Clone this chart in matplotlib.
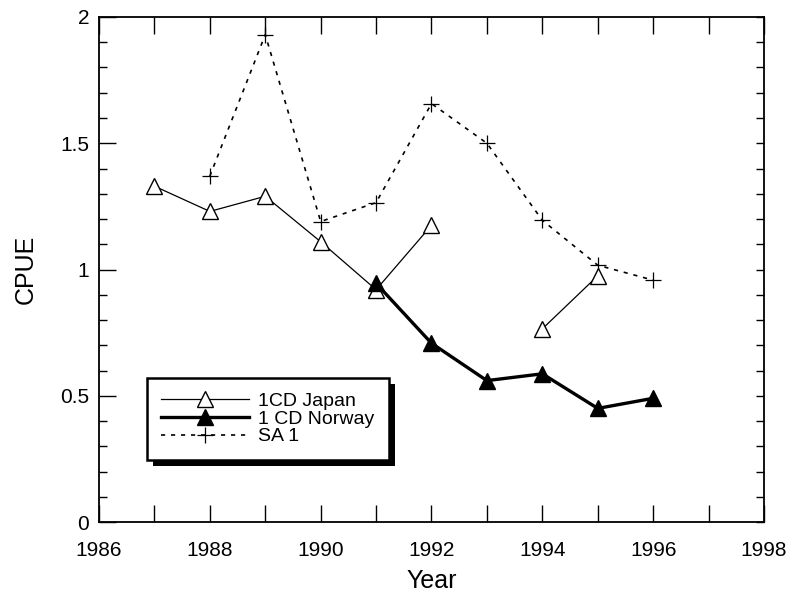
import numpy as np
import matplotlib
matplotlib.use("Agg")
import matplotlib.pyplot as plt
from matplotlib.patches import Rectangle
from matplotlib.transforms import IdentityTransform
from matplotlib.ticker import MultipleLocator

plt.rcParams['font.family'] = ['Liberation Sans', 'DejaVu Sans']

# data
years = np.arange(1987, 1997)
japan = [1.33, 1.23, 1.29, 1.11, 0.92, 1.175, np.nan, 0.765, 0.975, np.nan]
norway_years = [1991, 1992, 1993, 1994, 1995, 1996]
norway = [0.945, 0.708, 0.56, 0.587, 0.45, 0.49]
sa_years = [1988, 1989, 1990, 1991, 1992, 1993, 1994, 1995, 1996]
sa1 = [1.37, 1.93, 1.19, 1.265, 1.657, 1.50, 1.195, 1.017, 0.958]

fig = plt.figure(figsize=(7.94, 5.92), dpi=100)
ax = fig.add_axes([0.1247, 0.1182, 0.8375, 0.8531])

ax.plot(years, japan, '-', color='k', lw=0.9, marker='^', ms=11.5,
        mfc='white', mec='k', mew=1.0, label='1CD Japan', zorder=3)
ax.plot(norway_years, norway, '-', color='k', lw=2.4, marker='^', ms=11.5,
        mfc='k', mec='k', label='1 CD Norway', zorder=4)
ax.plot(sa_years, sa1, color='k', lw=1.2, ls=(0, (2.5, 3.5)), marker='+',
        ms=11, mew=0.9, label='SA 1', zorder=2)

ax.set_xlim(1986, 1998)
ax.set_ylim(0, 2)
ax.xaxis.set_major_locator(MultipleLocator(2))
ax.xaxis.set_minor_locator(MultipleLocator(1))
ax.yaxis.set_major_locator(MultipleLocator(0.5))
ax.yaxis.set_minor_locator(MultipleLocator(0.1))
ax.yaxis.set_major_formatter(plt.FuncFormatter(lambda v, p: f'{v:g}'))

ax.tick_params(axis='x', which='both', direction='in', top=True, bottom=True,
               length=12, width=1.0, labelsize=15, pad=14)
ax.tick_params(axis='y', which='major', direction='in', left=True, right=True,
               length=12, width=1.0, labelsize=15, pad=7)
ax.tick_params(axis='y', which='minor', direction='in', left=True, right=True,
               length=6, width=1.0)
# right side: short ticks at every 0.1 including the majors
for t in ax.yaxis.get_major_ticks():
    t.tick2line.set_markersize(6)

for s in ax.spines.values():
    s.set_linewidth(1.3)

ax.set_xlabel('Year', fontsize=18, labelpad=6)
ax.set_ylabel('CPUE', fontsize=18, labelpad=16)

leg = ax.legend(loc='lower left', bbox_to_anchor=(0.072, 0.123),
                borderaxespad=0, fontsize=14, handlelength=4.5,
                handletextpad=0.45, labelspacing=0.0, borderpad=0.75,
                fancybox=False, edgecolor='k', framealpha=1)
leg.get_frame().set_linewidth(1.8)
leg.set_zorder(6)

# heavy black drop shadow behind the legend box
fig.canvas.draw()
bb = leg.get_frame().get_window_extent()
ax.add_patch(Rectangle((bb.x0 + 6, bb.y0 - 6), bb.width, bb.height,
                       transform=IdentityTransform(), facecolor='k',
                       edgecolor='none', clip_on=False, zorder=5.5))

fig.savefig('out.png', dpi=100)
